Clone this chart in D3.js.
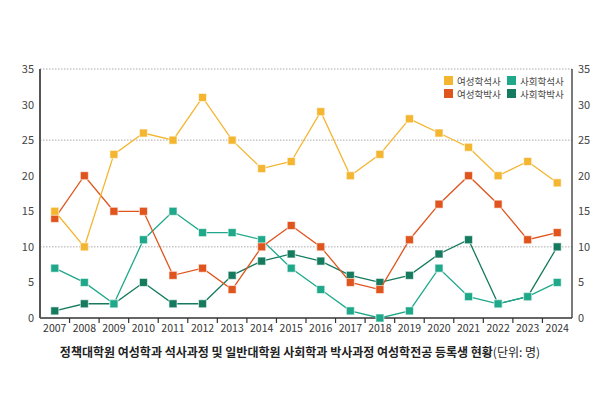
<!DOCTYPE html>
<html>
<head>
<meta charset="utf-8">
<script src="https://cdn.jsdelivr.net/npm/d3@7"></script>
<style>
  body { margin: 0; background: #fff; }
  text { font-family: "Noto Sans CJK KR", "Noto Sans", sans-serif; }
</style>
</head>
<body>
<div id="vis"></div>
<script>
// data
var years = ['2007','2008','2009','2010','2011','2012','2013','2014','2015','2016','2017','2018','2019','2020','2021','2022','2023','2024'];
var womenMaster = [15, 10, 23, 26, 25, 31, 25, 21, 22, 29, 20, 23, 28, 26, 24, 20, 22, 19];
var womenDoctor = [14, 20, 15, 15, 6, 7, 4, 10, 13, 10, 5, 4, 11, 16, 20, 16, 11, 12];
var socMaster = [7, 5, 2, 11, 15, 12, 12, 11, 7, 4, 1, 0, 1, 7, 3, 2, 3, 5];
var socDoctor = [1, 2, 2, 5, 2, 2, 6, 8, 9, 8, 6, 5, 6, 9, 11, 2, 3, 10];
var yTicks = [0, 5, 10, 15, 20, 25, 30, 35];
var gridTicks = [10, 25, 35];

var width = 600;
var height = 397;
var mLeft = 40, mRight = 572, mTop = 69, mBottom = 318;

// drawing order: later series sit on top
var series = [
  { name: '사회학박사', values: socDoctor, color: '#157a5e' },
  { name: '사회학석사', values: socMaster, color: '#1fa98a' },
  { name: '여성학박사', values: womenDoctor, color: '#e0541d' },
  { name: '여성학석사', values: womenMaster, color: '#f4b631' }
];

var svg = d3.select('#vis').append('svg')
  .attr('width', width)
  .attr('height', height);

var x = d3.scaleBand().domain(years).range([mLeft, mRight]);
var y = d3.scaleLinear().domain([0, 35]).range([mBottom, mTop]);

// dotted gridlines
svg.selectAll('.grid')
  .data(gridTicks)
  .enter().append('line')
  .attr('x1', mLeft).attr('x2', mRight)
  .attr('y1', function(d) { return y(d); })
  .attr('y2', function(d) { return y(d); })
  .attr('stroke', '#aaa')
  .attr('stroke-width', 1)
  .attr('stroke-dasharray', '1.5,1.5');

// x axis: ticks between the years
var xAxis = svg.append('g').attr('transform', 'translate(0,' + mBottom + ')');
xAxis.append('line')
  .attr('x1', mLeft).attr('x2', mRight)
  .attr('stroke', '#333').attr('stroke-width', 1.5);
xAxis.selectAll('.tick')
  .data(years.slice(1))
  .enter().append('line')
  .attr('x1', function(d) { return x(d); })
  .attr('x2', function(d) { return x(d); })
  .attr('y1', 0).attr('y2', 5)
  .attr('stroke', '#333').attr('stroke-width', 1.2);
xAxis.selectAll('.lbl')
  .data(years)
  .enter().append('text')
  .attr('x', function(d) { return x(d) + x.bandwidth() / 2; })
  .attr('y', 14)
  .attr('text-anchor', 'middle')
  .attr('font-size', 10.5)
  .attr('fill', '#333')
  .text(function(d) { return d; });

// left and right axes
[mLeft, mRight].forEach(function(px, i) {
  svg.append('line')
    .attr('x1', px).attr('x2', px)
    .attr('y1', mTop).attr('y2', mBottom)
    .attr('stroke', i === 0 ? '#555' : '#333')
    .attr('stroke-width', i === 0 ? 2 : 1.3);
  svg.selectAll(null)
    .data(yTicks)
    .enter().append('text')
    .attr('x', i === 0 ? px - 6 : px + 6)
    .attr('y', function(d) { return y(d) + 4; })
    .attr('text-anchor', i === 0 ? 'end' : 'start')
    .attr('font-size', 11)
    .attr('fill', '#444')
    .text(function(d) { return d; });
});

var line = d3.line()
  .x(function(d, i) { return x(years[i]) + x.bandwidth() / 2; })
  .y(function(d) { return y(d); });

series.forEach(function(s) {
  svg.append('path')
    .datum(s.values)
    .attr('d', line)
    .attr('fill', 'none')
    .attr('stroke', s.color)
    .attr('stroke-width', 1.3);
  svg.selectAll(null)
    .data(s.values)
    .enter().append('rect')
    .attr('x', function(d, i) { return x(years[i]) + x.bandwidth() / 2 - 4; })
    .attr('y', function(d) { return y(d) - 4; })
    .attr('width', 8).attr('height', 8)
    .attr('fill', s.color)
    .attr('stroke', '#fff')
    .attr('stroke-opacity', 0.6)
    .attr('stroke-width', 1);
});

// legend
var legendItems = [
  { name: '여성학석사', color: '#f4b631', col: 0, row: 0 },
  { name: '사회학석사', color: '#1fa98a', col: 1, row: 0 },
  { name: '여성학박사', color: '#e0541d', col: 0, row: 1 },
  { name: '사회학박사', color: '#157a5e', col: 1, row: 1 }
];
var legend = svg.selectAll('.legend')
  .data(legendItems)
  .enter().append('g')
  .attr('transform', function(d) { return 'translate(' + (444 + d.col * 63) + ',' + (76 + d.row * 13) + ')'; });
legend.append('rect')
  .attr('width', 9).attr('height', 9)
  .attr('fill', function(d) { return d.color; });
legend.append('text')
  .attr('x', 13).attr('y', 8.5)
  .attr('font-size', 9.5)
  .attr('fill', '#444')
  .text(function(d) { return d.name; });

// caption
var cap = svg.append('text')
  .attr('x', 300).attr('y', 357)
  .attr('text-anchor', 'middle')
  .attr('font-size', 12)
  .attr('fill', '#222');
cap.append('tspan').attr('font-weight', 'bold')
  .text('정책대학원 여성학과 석사과정 및 일반대학원 사회학과 박사과정 여성학전공 등록생 현황');
cap.append('tspan').text('(단위: 명)');
</script>
</body>
</html>
